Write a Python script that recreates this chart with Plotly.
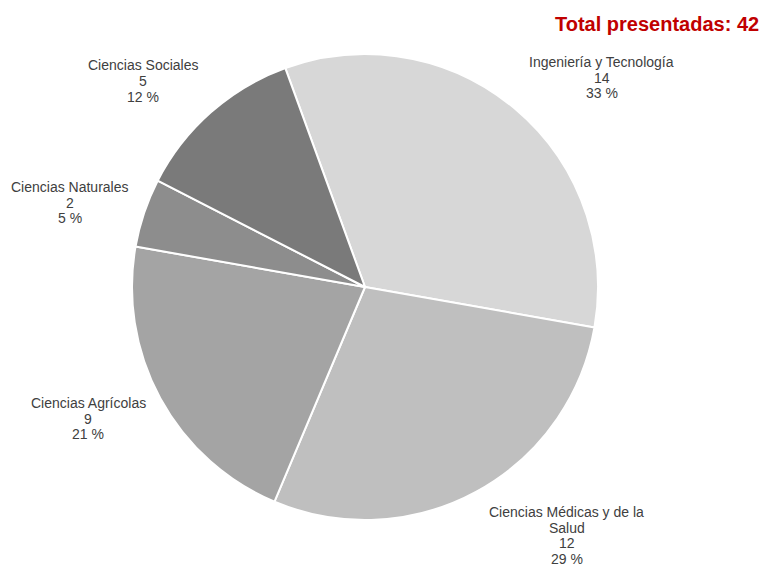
import plotly.graph_objects as go

categories = ["Ingeniería y Tecnología", "Ciencias Médicas y de la Salud",
              "Ciencias Agrícolas", "Ciencias Naturales", "Ciencias Sociales"]
label_text = ["Ingeniería y Tecnología", "Ciencias Médicas y de la<br>Salud",
              "Ciencias Agrícolas", "Ciencias Naturales", "Ciencias Sociales"]
values = [14, 12, 9, 2, 5]
colors = ["#d7d7d7", "#bfbfbf", "#a4a4a4", "#8d8d8d", "#7a7a7a"]
# label block: (center x px, first line center y px)
label_pos = [(601.5, 61.7), (566.5, 511.7), (88, 402.7), (69.5, 186.7), (143, 65)]
LINE_H = 15.8
W, H = 764, 564

total = sum(values)

fig = go.Figure(go.Pie(
    labels=categories, values=values, sort=False, direction="clockwise",
    rotation=-20, marker=dict(colors=colors, line=dict(color="white", width=2)),
    textinfo="none", hoverinfo="label+value+percent", showlegend=False,
    domain=dict(x=[132/W, 598/W], y=[44/H, 510/H]),
))

font = dict(family="Arial, Liberation Sans", size=14, color="#404040")
annotations = []
for name, v, (px, py) in zip(label_text, values, label_pos):
    pct = round(100 * v / total)
    lines = name.split("<br>") + [str(v), f"{pct} %"]
    for i, line in enumerate(lines):
        annotations.append(dict(
            text=line, x=px / W, y=1 - (py + i * LINE_H) / H,
            xref="paper", yref="paper", xanchor="center", yanchor="middle",
            showarrow=False, font=font,
        ))
annotations.append(dict(
    text=f"<b>Total presentadas: {total}</b>", x=761/W, y=1 - 24/H,
    xref="paper", yref="paper", xanchor="right", yanchor="middle", showarrow=False,
    font=dict(family="Arial, Liberation Sans", size=20, color="#c00000"),
))

fig.update_layout(
    width=W, height=H, margin=dict(l=0, r=0, t=0, b=0),
    paper_bgcolor="white", plot_bgcolor="white", annotations=annotations,
)
fig.write_html("out.html", config={"displayModeBar": False},
               post_script="document.body.style.margin='0';document.body.style.overflow='hidden';")
